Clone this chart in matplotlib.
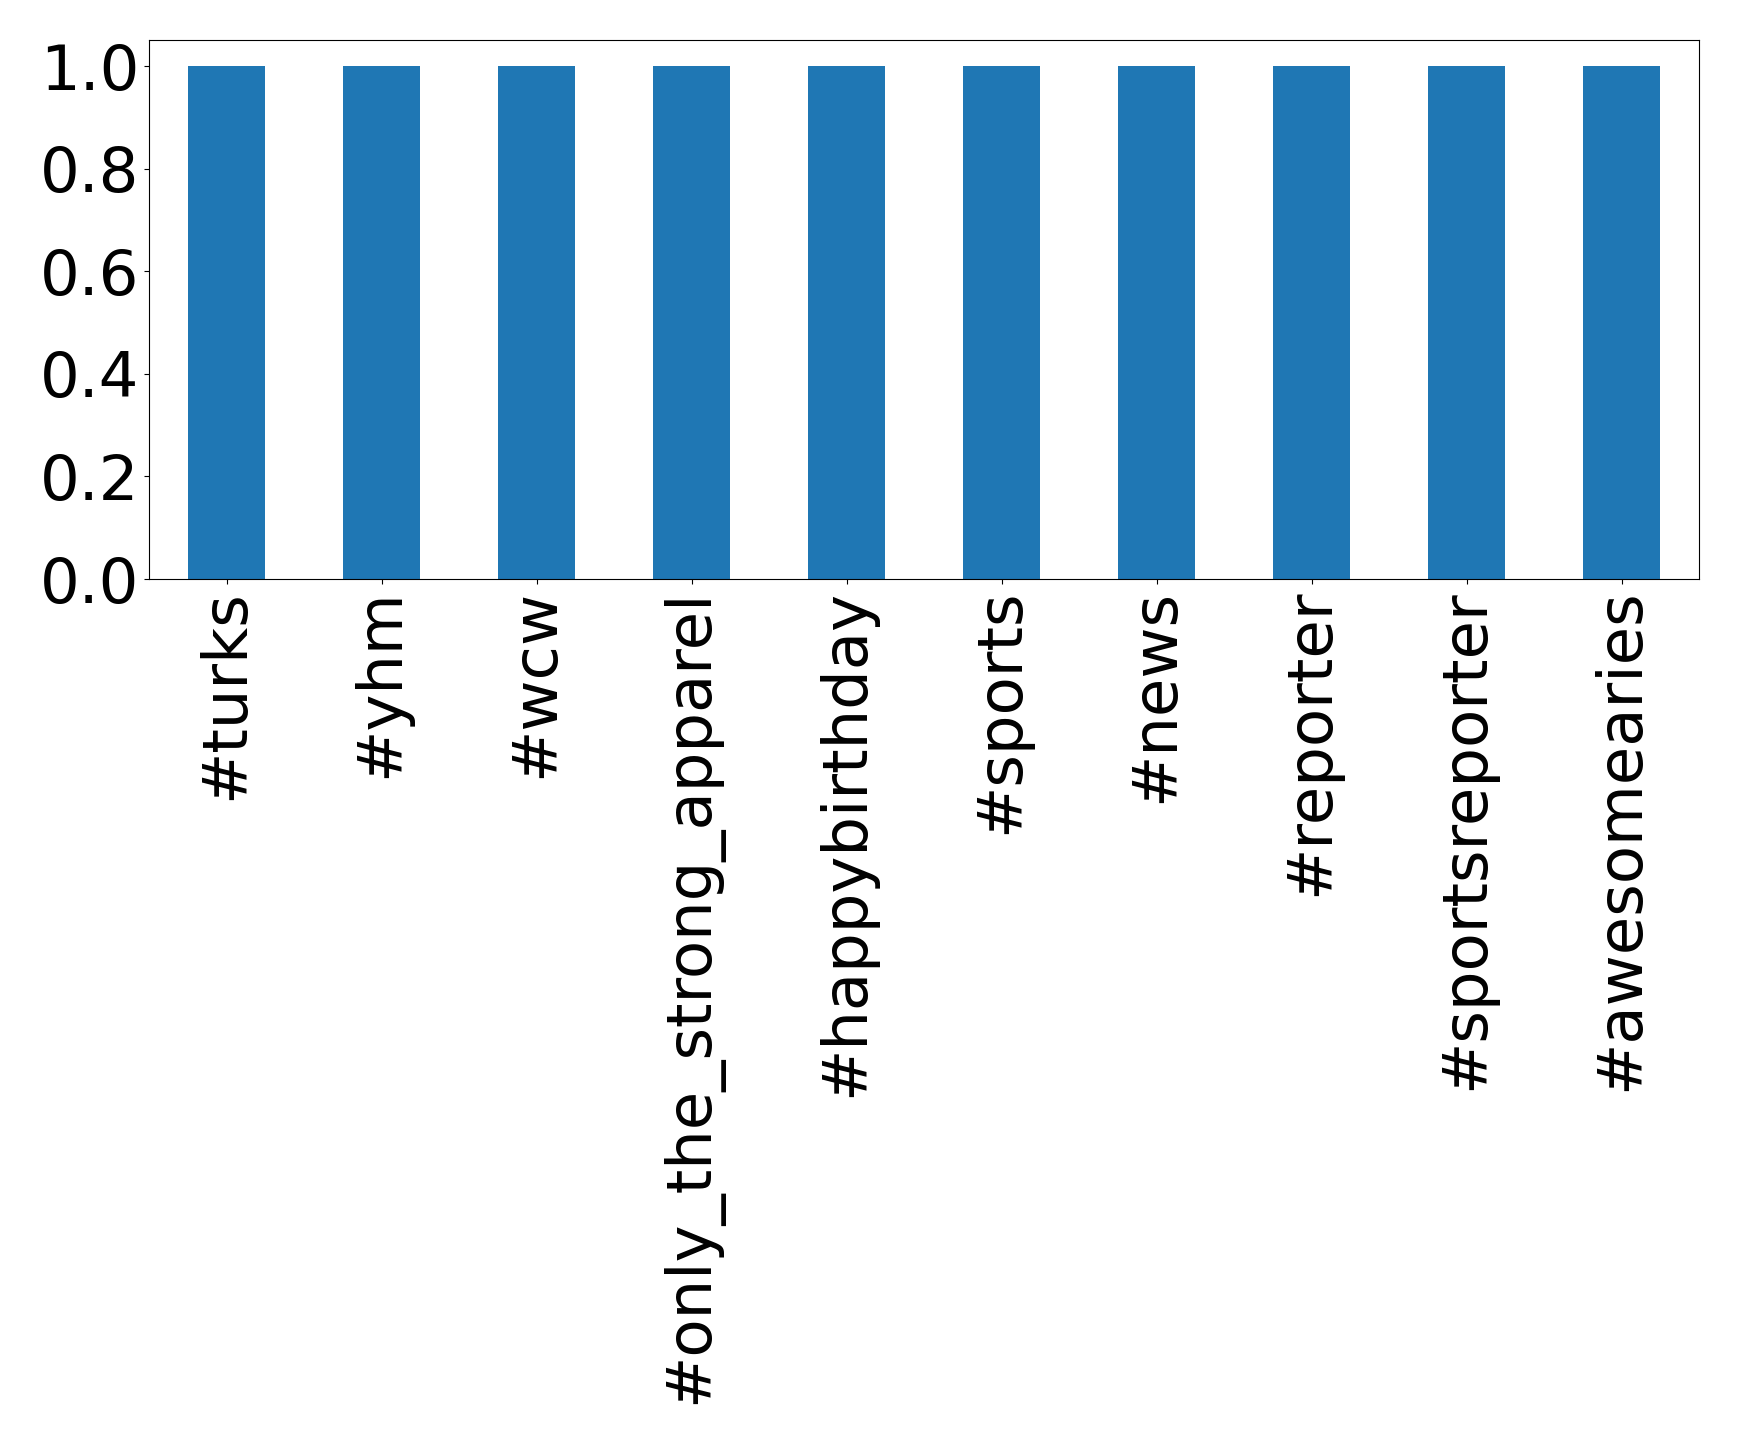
"""Hashtag counts bar chart."""
import matplotlib
matplotlib.use("Agg")
import matplotlib.pyplot as plt
import pandas as pd

hashtags = ["#turks", "#yhm", "#wcw", "#only_the_strong_apparel", "#happybirthday",
            "#sports", "#news", "#reporter", "#sportsreporter", "#awesomearies"]
counts = [1, 1, 1, 1, 1, 1, 1, 1, 1, 1]
yticks = [0.0, 0.2, 0.4, 0.6, 0.8, 1.0]

series = pd.Series(counts, index=hashtags)

fig = plt.figure(figsize=(17.39, 14.44), dpi=100)
ax = fig.add_axes([0.0857, 0.599, 0.977 - 0.0857, 0.972 - 0.599])
series.plot(kind="bar", ax=ax, color="#1f77b4", fontsize=45)
ax.set_yticks(yticks)
ax.tick_params(axis="both", labelsize=45)
fig.savefig("out.png", dpi=100)
